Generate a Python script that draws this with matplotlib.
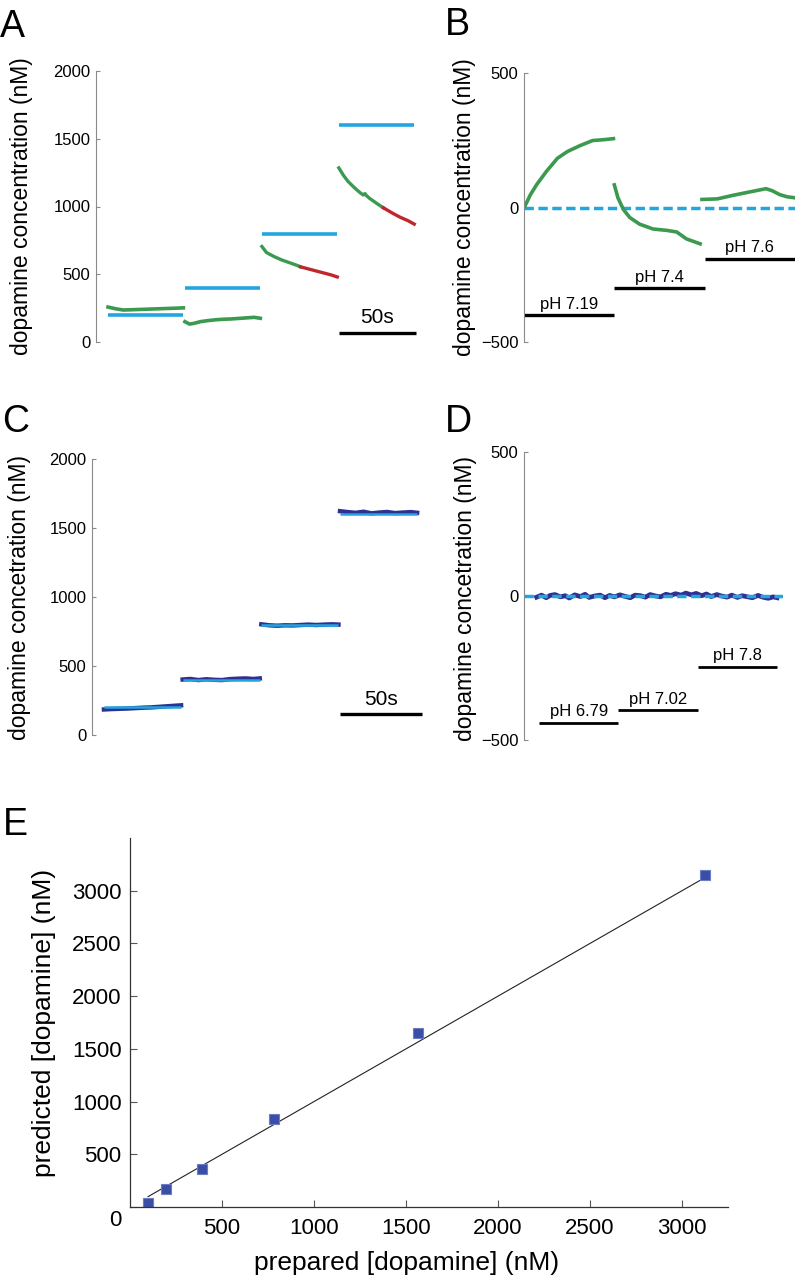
import numpy as np
import matplotlib.pyplot as plt
from matplotlib.transforms import ScaledTranslation

plt.rcParams['font.family'] = ['Liberation Sans', 'DejaVu Sans']

W, H = 796, 1277

# colores
BLUE = '#23a6df'
GREEN = '#3b9a4f'
RED = '#c0272d'
NAVY = '#2e3192'

# ---- datos panel A (tiempo en s dentro de cada segmento) ----
seg_start = [0, 50, 100, 150]
a_target = [200, 400, 800, 1600]
a_t1 = [0, 5, 10, 15, 20, 25, 30, 35, 40, 45, 49]
a_v1 = [258, 245, 236, 238, 240, 242, 244, 246, 248, 250, 252]
a_t2 = [0, 3, 6, 10, 15, 20, 25, 30, 35, 40, 45, 49]
a_v2 = [150, 132, 138, 150, 158, 164, 168, 170, 174, 178, 182, 175]
a_t3_green = [0, 3, 8, 13, 18, 23, 25]
a_v3_green = [705, 660, 630, 605, 585, 565, 555]
a_t3_red = [25, 30, 35, 40, 45, 49]
a_v3_red = [555, 540, 525, 510, 495, 480]
a_t4_green = [0, 3, 6, 10, 14, 16, 17, 18, 20, 25, 29]
a_v4_green = [1285, 1230, 1185, 1140, 1100, 1085, 1095, 1080, 1060, 1020, 990]
a_t4_red = [29, 35, 40, 45, 49]
a_v4_red = [990, 950, 920, 895, 870]

# ---- datos panel B ----
b_t1 = [0, 1, 7, 14, 25, 37, 48, 62, 76, 88, 99]
b_v1 = [0, 5, 47, 85, 135, 183, 208, 230, 249, 252, 256]
b_t2 = [100, 104, 110, 117, 128, 143, 158, 169, 180, 195]
b_v2 = [84, 36, -7, -37, -62, -80, -85, -91, -117, -135]
b_t3 = [197, 214, 231, 250, 262, 268, 275, 283, 291, 300]
b_v3 = [30, 32, 45, 58, 66, 70, 62, 48, 40, 36]
b_ph_labels = ['pH 7.19', 'pH 7.4', 'pH 7.6']
b_ph_levels = [-400, -300, -190]
b_ph_start = [0, 100, 200]
b_ph_end = [100, 200, 300]

# ---- datos panel C ----
c_t = [0, 5, 10, 15, 20, 25, 30, 35, 40, 45, 49]
c_v1 = [185, 188, 190, 192, 195, 198, 200, 204, 208, 212, 215]
c_v2 = [402, 406, 398, 404, 400, 398, 405, 408, 410, 406, 410]
c_v3 = [802, 795, 792, 795, 794, 797, 800, 797, 800, 802, 800]
c_v4 = [1622, 1615, 1610, 1618, 1606, 1612, 1616, 1608, 1612, 1615, 1610]
c_traces = [c_v1, c_v2, c_v3, c_v4]

# ---- datos panel D ----
d_t = [-3, 3, 9, 14, 20, 27, 33, 38, 45, 52, 58, 63, 70, 77, 83, 89,
       95, 102, 108, 115, 121, 128, 134, 140, 147, 153, 160, 166, 172,
       179, 185, 192, 198, 205, 211, 217, 224, 230, 237, 243, 250, 256,
       263, 269, 276, 282, 289, 295, 300]
d_v = [-4, 3, -6, 2, 5, -3, 1, -7, 4, -2, 6, -5, 0, 3, -6, 2,
       -3, 4, -1, -6, 3, 1, -4, 5, 0, -3, 6, 2, 8,
       3, 10, 4, 9, 1, 7, -2, 5, 0, -4, 3, -5, 1,
       -3, -6, 2, -4, -8, -3, -6]
d_ph_labels = ['pH 6.79', 'pH 7.02', 'pH 7.8']
d_ph_levels = [-440, -395, -245]
d_ph_start = [0, 100, 200]
d_ph_end = [100, 200, 300]

# ---- datos panel E ----
e_prepared = [98, 196, 391, 781, 1563, 3125]
e_predicted = [40, 170, 360, 836, 1650, 3146]
e_err = [25, 25, 25, 25, 30, 30]


def px_axes(fig, x0, y0, x1, y1):
    '''ejes a partir de coordenadas en pixeles (origen arriba a la izquierda)'''
    return fig.add_axes([x0 / W, 1 - y1 / H, (x1 - x0) / W, (y1 - y0) / H])


def trace_style(ax):
    for s in ['top', 'right', 'bottom']:
        ax.spines[s].set_visible(False)
    ax.spines['left'].set_color('#8a8a8a')
    ax.spines['left'].set_linewidth(0.8)
    ax.tick_params(axis='y', direction='in', length=3, color='#8a8a8a',
                   labelsize=12, pad=4, width=0.8)
    ax.set_xticks([])


fig = plt.figure(figsize=(W / 100, H / 100), dpi=100)

# Panel A
ax = px_axes(fig, 96, 71, 425, 342)
for s0, lvl in zip(seg_start, a_target):
    ax.plot([s0, s0 + 49], [lvl, lvl], color=BLUE, lw=2.6, solid_capstyle='butt')
ax.plot(np.array(a_t1) + seg_start[0], a_v1, color=GREEN, lw=2.6)
ax.plot(np.array(a_t2) + seg_start[1], a_v2, color=GREEN, lw=2.6)
ax.plot(np.array(a_t3_green) + seg_start[2], a_v3_green, color=GREEN, lw=2.4)
ax.plot(np.array(a_t3_red) + seg_start[2], a_v3_red, color=RED, lw=2.4)
ax.plot(np.array(a_t4_green) + seg_start[3], a_v4_green, color=GREEN, lw=2.4)
ax.plot(np.array(a_t4_red) + seg_start[3], a_v4_red, color=RED, lw=2.4)
ax.plot([150, 200], [65, 65], color='k', lw=2.4, solid_capstyle='butt')
ax.annotate('50s', xy=(175, 65), xytext=(0, 7), textcoords='offset points',
            ha='center', va='baseline', fontsize=15)
ax.set_xlim(-7.8, 206)
ax.set_ylim(0, 2000)
ax.set_yticks([0, 500, 1000, 1500, 2000])
trace_style(ax)
ax.set_ylabel('dopamine concentration (nM)', fontsize=16.5)
ax.yaxis.set_label_coords(-0.19, 0.5)

# Panel B
ax = px_axes(fig, 524, 73, 795, 342)
ax.plot([0, 300], [0, 0], color=BLUE, lw=2.5, dashes=(2.7, 1.3))
ax.plot(b_t1, b_v1, color=GREEN, lw=2.6)
ax.plot(b_t2, b_v2, color=GREEN, lw=2.6)
ax.plot(b_t3, b_v3, color=GREEN, lw=2.6)
for lab, lvl, x0, x1 in zip(b_ph_labels, b_ph_levels, b_ph_start, b_ph_end):
    ax.plot([x0, x1], [lvl, lvl], color='k', lw=2.4, solid_capstyle='butt')
    ax.annotate(lab, xy=((x0 + x1) / 2, lvl), xytext=(0, 4.5),
                textcoords='offset points', ha='center', va='baseline', fontsize=12)
ax.set_xlim(0, 300)
ax.set_ylim(-500, 500)
ax.set_yticks([-500, 0, 500])
trace_style(ax)
ax.set_ylabel('dopamine concentration (nM)', fontsize=16.5)
ax.yaxis.set_label_coords(-0.177, 0.5)

# Panel C
ax = px_axes(fig, 92, 459, 425, 735)
for s0, lvl, vals in zip(seg_start, a_target, c_traces):
    ax.plot(np.array(c_t) + s0, vals, color=NAVY, lw=3.2)
    ax.plot([s0, s0 + 49], [lvl, lvl], color=BLUE, lw=1.8, solid_capstyle='butt')
ax.plot([150, 202], [150, 150], color='k', lw=2.4, solid_capstyle='butt')
ax.annotate('50s', xy=(176, 150), xytext=(0, 7), textcoords='offset points',
            ha='center', va='baseline', fontsize=15)
ax.set_xlim(-7.6, 204)
ax.set_ylim(0, 2000)
ax.set_yticks([0, 500, 1000, 1500, 2000])
trace_style(ax)
ax.set_ylabel('dopamine concetration (nM)', fontsize=16.5)
ax.yaxis.set_label_coords(-0.183, 0.5)

# Panel D
ax = px_axes(fig, 524, 452, 783, 740)
ax.plot(d_t, d_v, color=NAVY, lw=3.4)
ax.plot([-19, 307], [0, 0], color=BLUE, lw=2.5, dashes=(2.7, 1.3))
for lab, lvl, x0, x1 in zip(d_ph_labels, d_ph_levels, d_ph_start, d_ph_end):
    ax.plot([x0, x1], [lvl, lvl], color='k', lw=2.0, solid_capstyle='butt')
    ax.annotate(lab, xy=((x0 + x1) / 2, lvl), xytext=(0, 4.5),
                textcoords='offset points', ha='center', va='baseline', fontsize=12)
ax.set_xlim(-19, 307.5)
ax.set_ylim(-500, 500)
ax.set_yticks([-500, 0, 500])
trace_style(ax)
ax.set_ylabel('dopamine concetration (nM)', fontsize=16.5)
ax.yaxis.set_label_coords(-0.18, 0.49)

# Panel E
ax = px_axes(fig, 130, 838, 728, 1207)
ax.plot([e_prepared[0], e_prepared[-1]], [e_prepared[0], e_prepared[-1]],
        color='#222222', lw=0.8)
ax.errorbar(e_prepared, e_predicted, yerr=e_err, fmt='s', ms=7,
            mfc='#3b4ea6', mec='#6c7cc6', mew=0.8, ecolor='#6c7cc6',
            elinewidth=1, capsize=3)
ax.set_xlim(0, 3250)
ax.set_ylim(0, 3500)
ax.set_xticks([500, 1000, 1500, 2000, 2500, 3000])
ax.set_yticks([0, 500, 1000, 1500, 2000, 2500, 3000])
for s in ['top', 'right']:
    ax.spines[s].set_visible(False)
for s in ['left', 'bottom']:
    ax.spines[s].set_color('#333333')
    ax.spines[s].set_linewidth(0.9)
ax.tick_params(direction='in', length=5, color='#555555', labelsize=16, width=0.8)
ax.tick_params(axis='x', pad=8)
ax.tick_params(axis='y', pad=6)
ax.set_xlabel('prepared [dopamine] (nM)', fontsize=19, va='bottom')
ax.set_ylabel('predicted [dopamine] (nM)', fontsize=19)
ax.xaxis.set_label_coords(0.463, -0.185)
ax.yaxis.set_label_coords(-0.124, 0.5)
# la etiqueta "0" aparece algo más abajo en el original
lab0 = ax.yaxis.get_major_ticks()[0].label1
lab0.set_transform(lab0.get_transform() + ScaledTranslation(0, -11 / 100, fig.dpi_scale_trans))

# letras de los paneles
for letra, x, y in [('A', 0, 37), ('B', 445, 35), ('C', 2, 432), ('D', 445, 432), ('E', 3, 835)]:
    fig.text(x / W, 1 - y / H, letra, fontsize=27, va='baseline', ha='left')

fig.savefig('out.png', dpi=100)
